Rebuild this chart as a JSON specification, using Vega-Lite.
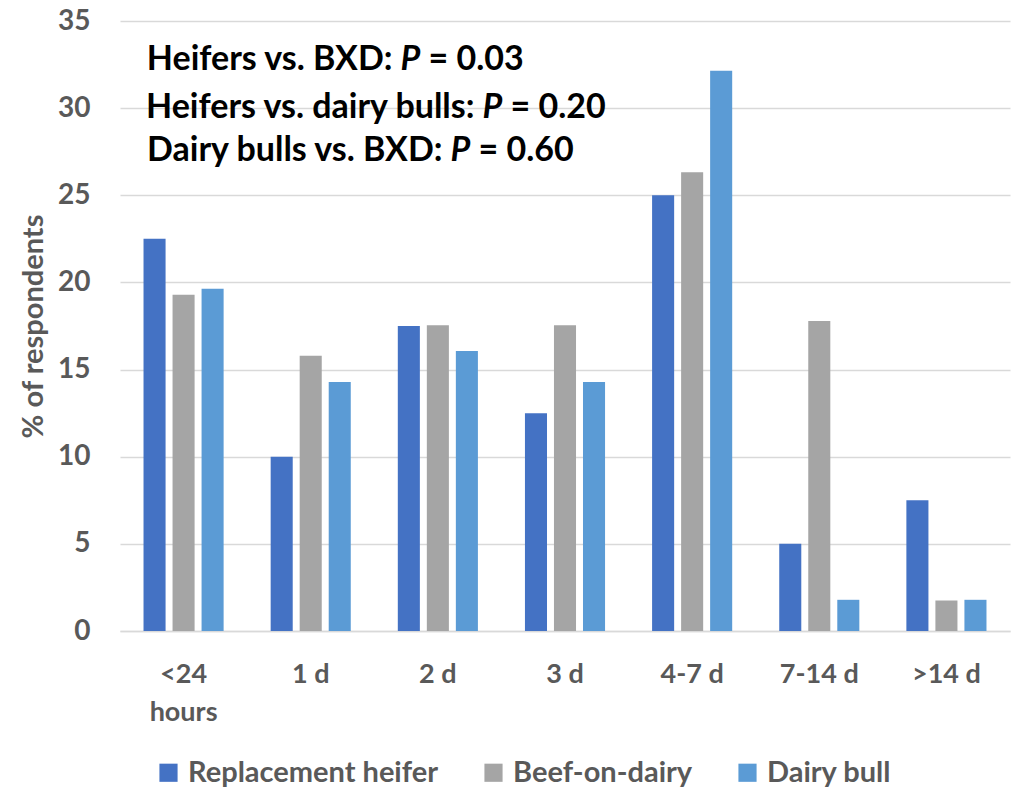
{
  "$schema": "https://vega.github.io/schema/vega-lite/v6.json",
  "width": 890,
  "height": 610,
  "autosize": {"type": "none"},
  "padding": {"left": 120, "top": 21, "right": 10, "bottom": 158},
  "background": "white",
  "config": {
    "font": "Lato",
    "view": {"stroke": null},
    "axis": {"labelFont": "Lato", "titleFont": "Lato"},
    "legend": {"labelFont": "Lato"},
    "text": {"font": "Lato", "fontSize": 34, "fontWeight": "bold", "color": "black", "baseline": "alphabetic"}
  },
  "encoding": {
    "x": {
      "field": "period",
      "type": "nominal",
      "scale": {"domain": ["<24 hours", "1 d", "2 d", "3 d", "4-7 d", "7-14 d", ">14 d"], "paddingInner": 0.37, "paddingOuter": 0.185}
    }
  },
  "layer": [
    {
      "data": {
        "values": [
          {"period": "<24 hours", "group": "Replacement heifer", "pct": 22.5},
          {"period": "<24 hours", "group": "Beef-on-dairy", "pct": 19.3},
          {"period": "<24 hours", "group": "Dairy bull", "pct": 19.64},
          {"period": "1 d", "group": "Replacement heifer", "pct": 10.0},
          {"period": "1 d", "group": "Beef-on-dairy", "pct": 15.79},
          {"period": "1 d", "group": "Dairy bull", "pct": 14.29},
          {"period": "2 d", "group": "Replacement heifer", "pct": 17.5},
          {"period": "2 d", "group": "Beef-on-dairy", "pct": 17.54},
          {"period": "2 d", "group": "Dairy bull", "pct": 16.07},
          {"period": "3 d", "group": "Replacement heifer", "pct": 12.5},
          {"period": "3 d", "group": "Beef-on-dairy", "pct": 17.54},
          {"period": "3 d", "group": "Dairy bull", "pct": 14.29},
          {"period": "4-7 d", "group": "Replacement heifer", "pct": 25.0},
          {"period": "4-7 d", "group": "Beef-on-dairy", "pct": 26.32},
          {"period": "4-7 d", "group": "Dairy bull", "pct": 32.14},
          {"period": "7-14 d", "group": "Replacement heifer", "pct": 5.0},
          {"period": "7-14 d", "group": "Beef-on-dairy", "pct": 17.78},
          {"period": "7-14 d", "group": "Dairy bull", "pct": 1.79},
          {"period": ">14 d", "group": "Replacement heifer", "pct": 7.5},
          {"period": ">14 d", "group": "Beef-on-dairy", "pct": 1.75},
          {"period": ">14 d", "group": "Dairy bull", "pct": 1.79}
        ]
      },
      "mark": {"type": "bar"},
      "encoding": {
        "x": {
          "field": "period",
          "type": "nominal",
          "axis": {
            "title": null,
            "labelAngle": 0,
            "labelFontSize": 27,
            "labelFontWeight": "bold",
            "labelColor": "#595959",
            "labelPadding": 30,
            "labelLineHeight": 38,
            "labelExpr": "datum.value == '<24 hours' ? ['<24', 'hours'] : datum.value",
            "ticks": false,
            "domain": true,
            "domainColor": "#D9D9D9",
            "domainWidth": 1.5,
            "grid": false
          }
        },
        "xOffset": {
          "field": "group",
          "type": "nominal",
          "scale": {"domain": ["Replacement heifer", "Beef-on-dairy", "Dairy bull"], "paddingInner": 0.24, "paddingOuter": 0}
        },
        "y": {
          "field": "pct",
          "type": "quantitative",
          "scale": {"domain": [0, 35], "nice": false},
          "axis": {
            "title": "% of respondents",
            "titleFontSize": 29,
            "titleFontWeight": "bold",
            "titleColor": "#595959",
            "titlePadding": 9,
            "values": [0, 5, 10, 15, 20, 25, 30, 35],
            "labelFontSize": 28,
            "labelFontWeight": "bold",
            "labelColor": "#595959",
            "labelPadding": 30,
            "ticks": false,
            "domain": false,
            "grid": true,
            "gridColor": "#D9D9D9",
            "gridWidth": 1.5
          }
        },
        "color": {
          "field": "group",
          "type": "nominal",
          "scale": {
            "domain": ["Replacement heifer", "Beef-on-dairy", "Dairy bull"],
            "range": ["#4472C4", "#A5A5A5", "#5B9BD5"]
          },
          "legend": {
            "title": null,
            "orient": "none",
            "direction": "horizontal",
            "legendX": 34,
            "legendY": 737,
            "symbolType": "square",
            "symbolSize": 330,
            "symbolStrokeWidth": 0,
            "labelFontSize": 29,
            "labelFontWeight": "bold",
            "labelColor": "#595959",
            "labelLimit": 0,
            "columnPadding": 40,
            "labelOffset": 5
          }
        }
      }
    },
    {
      "data": {"values": [{"period": "<24 hours", "y": 32.2, "part": "Heifers vs. BXD:"}]},
      "mark": {"type": "text", "align": "right", "dx": 249},
      "encoding": {"x": {"field": "period", "type": "nominal", "bandPosition": 0}, "y": {"field": "y", "type": "quantitative"}, "text": {"field": "part"}}
    },
    {
      "data": {"values": [{"period": "<24 hours", "y": 32.2, "part": "P"}]},
      "mark": {"type": "text", "align": "left", "fontStyle": "italic", "dx": 257},
      "encoding": {"x": {"field": "period", "type": "nominal", "bandPosition": 0}, "y": {"field": "y", "type": "quantitative"}, "text": {"field": "part"}}
    },
    {
      "data": {"values": [{"period": "<24 hours", "y": 32.2, "part": "= 0.03"}]},
      "mark": {"type": "text", "align": "left", "dx": 285},
      "encoding": {"x": {"field": "period", "type": "nominal", "bandPosition": 0}, "y": {"field": "y", "type": "quantitative"}, "text": {"field": "part"}}
    },
    {
      "data": {"values": [{"period": "<24 hours", "y": 29.43, "part": "Heifers vs. dairy bulls:"}]},
      "mark": {"type": "text", "align": "right", "dx": 331},
      "encoding": {"x": {"field": "period", "type": "nominal", "bandPosition": 0}, "y": {"field": "y", "type": "quantitative"}, "text": {"field": "part"}}
    },
    {
      "data": {"values": [{"period": "<24 hours", "y": 29.43, "part": "P"}]},
      "mark": {"type": "text", "align": "left", "fontStyle": "italic", "dx": 339},
      "encoding": {"x": {"field": "period", "type": "nominal", "bandPosition": 0}, "y": {"field": "y", "type": "quantitative"}, "text": {"field": "part"}}
    },
    {
      "data": {"values": [{"period": "<24 hours", "y": 29.43, "part": "= 0.20"}]},
      "mark": {"type": "text", "align": "left", "dx": 367},
      "encoding": {"x": {"field": "period", "type": "nominal", "bandPosition": 0}, "y": {"field": "y", "type": "quantitative"}, "text": {"field": "part"}}
    },
    {
      "data": {"values": [{"period": "<24 hours", "y": 26.96, "part": "Dairy bulls vs. BXD:"}]},
      "mark": {"type": "text", "align": "right", "dx": 299},
      "encoding": {"x": {"field": "period", "type": "nominal", "bandPosition": 0}, "y": {"field": "y", "type": "quantitative"}, "text": {"field": "part"}}
    },
    {
      "data": {"values": [{"period": "<24 hours", "y": 26.96, "part": "P"}]},
      "mark": {"type": "text", "align": "left", "fontStyle": "italic", "dx": 307},
      "encoding": {"x": {"field": "period", "type": "nominal", "bandPosition": 0}, "y": {"field": "y", "type": "quantitative"}, "text": {"field": "part"}}
    },
    {
      "data": {"values": [{"period": "<24 hours", "y": 26.96, "part": "= 0.60"}]},
      "mark": {"type": "text", "align": "left", "dx": 335},
      "encoding": {"x": {"field": "period", "type": "nominal", "bandPosition": 0}, "y": {"field": "y", "type": "quantitative"}, "text": {"field": "part"}}
    }
  ]
}
